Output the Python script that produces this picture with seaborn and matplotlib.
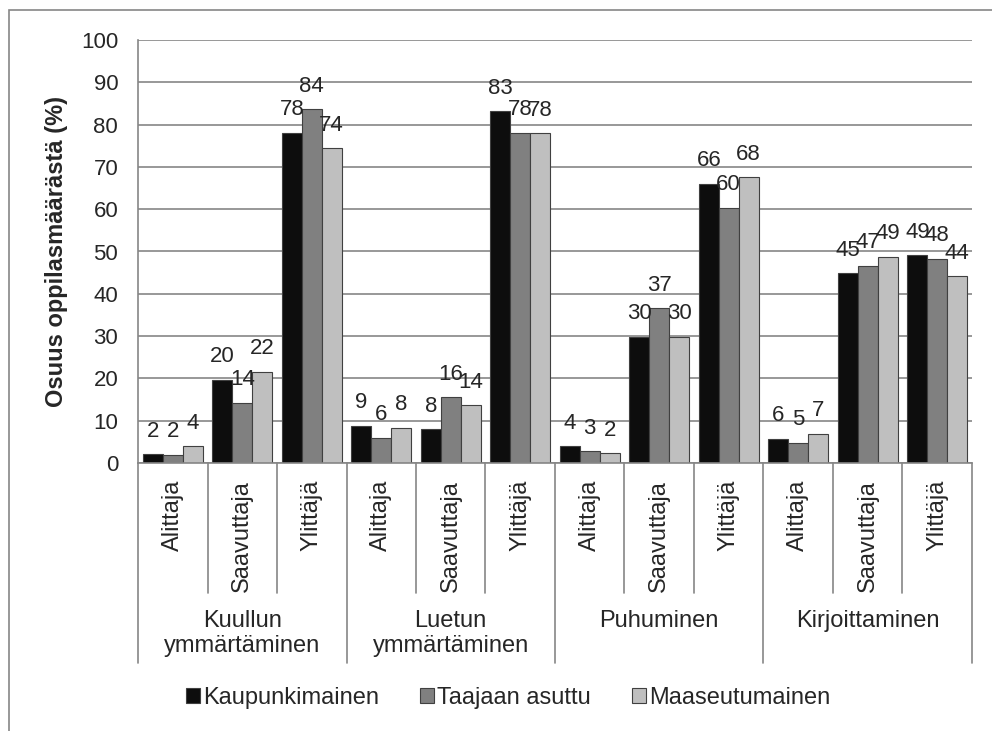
import pandas as pd
import numpy as np
import seaborn as sns
import matplotlib.pyplot as plt
from matplotlib.patches import Rectangle

# data
skills = ["Kuullun\nymmärtäminen", "Luetun\nymmärtäminen", "Puhuminen", "Kirjoittaminen"]
levels = ["Alittaja", "Saavuttaja", "Ylittäjä"]
series = ["Kaupunkimainen", "Taajaan asuttu", "Maaseutumainen"]

kaupunki = [2.1, 19.7, 78.1, 8.8, 8.0, 83.2, 4.0, 29.9, 66.0, 5.7, 44.8, 49.1]
taajama = [1.9, 14.2, 83.6, 6.0, 15.6, 78.1, 2.8, 36.6, 60.4, 4.8, 46.6, 48.3]
maaseutu = [4.0, 21.6, 74.4, 8.3, 13.6, 78.0, 2.3, 29.9, 67.6, 6.9, 48.8, 44.2]

colors = ["#0d0d0d", "#808080", "#bfbfbf"]
grid_col = "#868686"

cats = [f"{s}|{l}" for s in skills for l in levels]
rows = []
for name, vals in zip(series, [kaupunki, taajama, maaseutu]):
    for c, v in zip(cats, vals):
        rows.append({"cat": c, "value": v, "series": name})
df = pd.DataFrame(rows)

sns.set_style("white")
plt.rcParams["font.family"] = ["Liberation Sans", "DejaVu Sans"]

W, H = 992, 731
fig = plt.figure(figsize=(W / 100, H / 100), dpi=100)
# axes placed in pixel terms
left, right, top, bottom = 138, 972, 40, 463
ax = fig.add_axes([left / W, 1 - bottom / H, (right - left) / W, (bottom - top) / H])

sns.barplot(data=df, x="cat", y="value", hue="series", order=cats, hue_order=series,
            palette=colors, width=0.86, edgecolor="#404040", linewidth=0.8,
            saturation=1, ax=ax)

ax.set_ylim(0, 100)
ax.set_xlim(-0.5, len(cats) - 0.5)
ax.set_yticks(range(0, 101, 10))
ax.yaxis.grid(True, color=grid_col, linewidth=1.2)
ax.set_axisbelow(True)
for s in ["top", "right"]:
    ax.spines[s].set_visible(False)
for s in ["left", "bottom"]:
    ax.spines[s].set_color(grid_col)
    ax.spines[s].set_linewidth(1.2)
ax.tick_params(axis="y", length=4.3, color=grid_col, width=1.2, pad=10, labelsize=16)
ax.set_xticks(range(len(cats)))
ax.set_xticklabels(levels * len(skills), rotation=90, fontsize=17)
ax.tick_params(axis="x", length=0, pad=12)
ax.set_xlabel("")
ax.set_ylabel("")

# value labels
for cont in ax.containers:
    vals = [b.get_height() for b in cont]
    ax.bar_label(cont, labels=[f"{v:.0f}" for v in vals], padding=9, fontsize=16)

# category separators below the axis
px = bottom - top
for i in range(len(cats) + 1):
    if i % 3 == 0:
        y_end = -(663 - bottom) / px
    else:
        y_end = -(593 - bottom) / px
    ax.plot([i - 0.5, i - 0.5], [0, y_end], color=grid_col, lw=1.2,
            transform=ax.get_xaxis_transform(), clip_on=False)

# group labels
for g, name in enumerate(skills):
    ax.text(g * 3 + 1, -(610 - bottom) / px, name, ha="center", va="top",
            fontsize=17, linespacing=1.15, transform=ax.get_xaxis_transform())

fig.text(57 / W, 1 - 251.5 / H, "Osuus oppilasmäärästä (%)", rotation=90,
         ha="center", va="center", fontsize=17, fontweight="bold")

handles, labels = ax.get_legend_handles_labels()
ax.get_legend().remove()
fig.legend(handles, labels, loc="center", bbox_to_anchor=(508 / W, 1 - 698 / H),
           ncol=3, frameon=False, fontsize=17, handlelength=0.6, handleheight=0.6,
           handletextpad=0.12, columnspacing=1.75)

# outer chart border
fig.add_artist(Rectangle((9 / W, -0.1), 2, 1 - 10 / H + 0.1, transform=fig.transFigure,
                         fill=False, edgecolor=grid_col, lw=1.2))

fig.savefig("out.png", dpi=100)
